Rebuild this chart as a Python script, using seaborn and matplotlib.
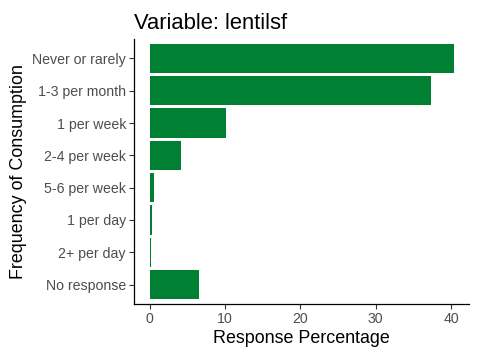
import matplotlib
matplotlib.use("Agg")
from matplotlib import pyplot as plt
import seaborn as sns
import pandas as pd

categories = ['Never or rarely', '1-3 per month', '1 per week', '2-4 per week',
              '5-6 per week', '1 per day', '2+ per day', 'No response']
percentages = [40.35, 37.3, 10.2, 4.23, 0.55, 0.3, 0.15, 6.62]

df = pd.DataFrame({'freq': categories, 'pct': percentages})

sns.set_theme(style='ticks')
plt.rcParams['font.family'] = ['Liberation Sans', 'DejaVu Sans']

fig = plt.figure(figsize=(4.8, 3.6), dpi=100)
ax = fig.add_axes([0.2798, 0.1556, 0.977 - 0.2798, 0.8917 - 0.1556])
sns.barplot(data=df, x='pct', y='freq', order=categories, color='#008033',
            saturation=1, width=0.9, linewidth=0, ax=ax)

ax.set_xlim(-2.02, 42.37)
ax.set_ylim(7.6, -0.6)
ax.set_xticks([0, 10, 20, 30, 40])
ax.tick_params(axis='both', colors='#333333', labelcolor='#4D4D4D', labelsize=10.2,
               length=3.5, width=0.8, pad=2.5)
for s in ['top', 'right']:
    ax.spines[s].set_visible(False)
for s in ['left', 'bottom']:
    ax.spines[s].set_color('black')
    ax.spines[s].set_linewidth(0.9)
ax.set_xlabel('Response Percentage', fontsize=12.9, color='black', labelpad=3)
ax.set_ylabel('Frequency of Consumption', fontsize=12.9, color='black', labelpad=4)
ax.set_title('Variable: lentilsf', fontsize=15.8, loc='left', color='black', pad=7)

fig.savefig('out.png', dpi=100)
